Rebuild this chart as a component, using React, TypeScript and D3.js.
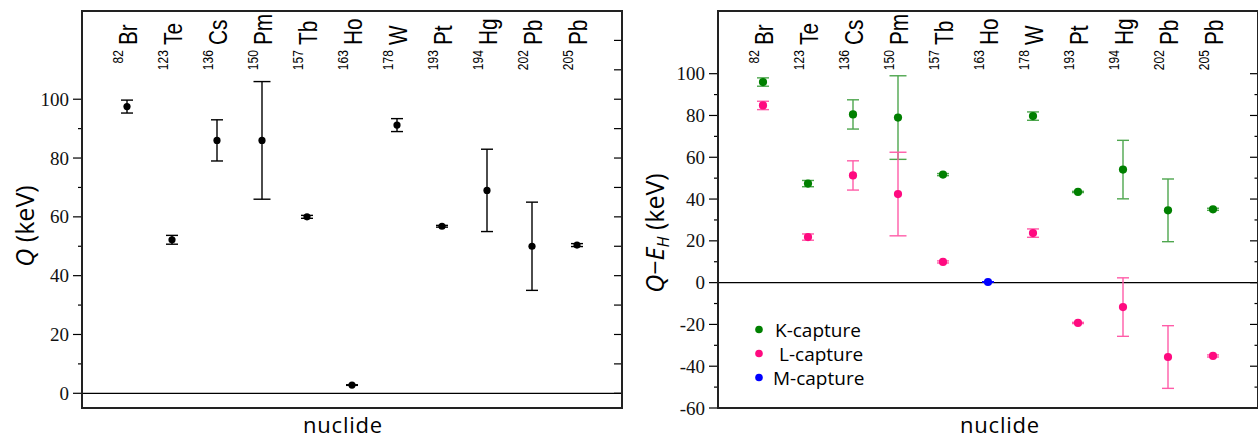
import React from "react";
import * as d3 from "d3";

// ---------- data ----------
const massNumbers = [82, 123, 136, 150, 157, 163, 178, 193, 194, 202, 205];
const elements = ["Br", "Te", "Cs", "Pm", "Tb", "Ho", "W", "Pt", "Hg", "Pb", "Pb"];

// left panel: Q values (keV)
const qValues = [97.5, 52.2, 86.0, 86.0, 60.0, 2.8, 91.2, 56.8, 69.0, 50.0, 50.4];
const qErrors = [2.2, 1.5, 7.0, 20.0, 0.5, 0.1, 2.2, 0.3, 14.0, 15.0, 0.5];

// right panel: Q - E_H (keV)
const kValues = [96.0, 47.4, 80.5, 79.0, 51.7, null, 79.7, 43.4, 54.1, 34.6, 35.1];
const kErrors = [2.0, 1.5, 7.0, 20.0, 0.5, null, 2.0, 0.3, 14.0, 15.0, 0.5];
const lValues = [84.8, 21.8, 51.3, 42.4, 9.9, null, 23.7, -19.3, -11.7, -35.6, -35.1];
const lErrors = [2.0, 1.5, 7.0, 20.0, 0.5, null, 2.0, 0.3, 14.0, 15.0, 0.5];
const mValues = [null, null, null, null, null, 0.3, null, null, null, null, null];
const mErrors = [null, null, null, null, null, 0.1, null, null, null, null, null];

const leftTickLabels = ["0", "20", "40", "60", "80", "100"];
const rightTickLabels = ["-60", "-40", "-20", "0", "20", "40", "60", "80", "100"];
const legendLabels = ["K-capture", "L-capture", "M-capture"];

// ---------- styles ----------
const SANS = "'Open Sans', 'DejaVu Sans', sans-serif";
const LABEL_SANS = "'Liberation Sans', Arial, sans-serif";
const SERIF = "'Liberation Serif', 'Times New Roman', serif";
const GREEN = "#008000";
const GREEN_BAR = "#4ea64e";
const PINK = "#ff0a80";
const PINK_BAR = "#ff5ca8";
const BLUE = "#0000ff";

const TOP = 11;
const BOTTOM = 408;

const keys = massNumbers.map((m, i) => `${m}${elements[i]}`);

function capHalf(i: number) {
  return elements[i] === "Pm" ? 8.5 : 6;
}

type PanelProps = {
  x0: number;
  x1: number;
  domain: [number, number];
  children: (x: d3.ScalePoint<string>, y: d3.ScaleLinear<number, number>) => React.ReactNode;
  leftTicks: number[];
  leftMajor: Set<number>;
  rightTicks: number[];
  rightMajor: Set<number> | null;
};

function NuclideLabels({ x }: { x: d3.ScalePoint<string> }) {
  return (
    <g>
      {keys.map((k, i) => {
        const cx = x(k) as number;
        return (
          <g key={k} transform={`translate(${cx},45) rotate(-90)`}>
            <g transform="scale(0.8,1)">
              <text x={0} y={10} fontSize={26} fontFamily={LABEL_SANS} fill="#000">
                {elements[i]}
              </text>
              <text x={-6.5} y={-4} fontSize={15} fontFamily={LABEL_SANS} textAnchor="end" fill="#000">
                {massNumbers[i]}
              </text>
            </g>
          </g>
        );
      })}
    </g>
  );
}

function Panel({ x0, x1, domain, children, leftTicks, leftMajor, rightTicks, rightMajor }: PanelProps) {
  const x = d3.scalePoint<string>().domain(keys).range([x0, x1]).padding(1);
  const y = d3.scaleLinear().domain(domain).range([BOTTOM, TOP]);
  return (
    <g>
      {/* zero line */}
      <line x1={x0} x2={x1} y1={y(0)} y2={y(0)} stroke="#000" strokeWidth={1.2} />
      {/* left ticks */}
      {leftTicks.map((t) => {
        const major = leftMajor.has(t);
        return (
          <g key={`l${t}`}>
            <line x1={x0 - (major ? 9 : 4)} x2={x0} y1={y(t)} y2={y(t)} stroke="#000" strokeWidth={1.2} />
            {major && (
              <text x={x0 - 13} y={y(t) + 6.5} textAnchor="end" fontSize={19} fontFamily={SERIF} fill="#111">
                {String(t)}
              </text>
            )}
          </g>
        );
      })}
      {/* right ticks */}
      {rightTicks.map((t) => {
        const len = rightMajor ? (rightMajor.has(t) ? 8 : 3.5) : 8;
        return <line key={`r${t}`} x1={x1 - len} x2={x1} y1={y(t)} y2={y(t)} stroke="#000" strokeWidth={1.2} />;
      })}
      <NuclideLabels x={x} />
      {children(x, y)}
      {/* frame */}
      <rect x={x0} y={TOP} width={x1 - x0} height={BOTTOM - TOP} fill="none" stroke="#222" strokeWidth={2} />
    </g>
  );
}

function ErrPoint({
  cx,
  y,
  v,
  e,
  half,
  color,
  barColor,
  r,
}: {
  cx: number;
  y: d3.ScaleLinear<number, number>;
  v: number;
  e: number;
  half: number;
  color: string;
  barColor: string;
  r: number;
}) {
  const yt = y(v + e);
  const yb = y(v - e);
  return (
    <g>
      <line x1={cx} x2={cx} y1={yt} y2={yb} stroke={barColor} strokeWidth={1.4} />
      <line x1={cx - half} x2={cx + half} y1={yt} y2={yt} stroke={barColor} strokeWidth={1.4} />
      <line x1={cx - half} x2={cx + half} y1={yb} y2={yb} stroke={barColor} strokeWidth={1.4} />
      <circle cx={cx} cy={y(v)} r={r} fill={color} />
    </g>
  );
}

export default function App() {
  const leftPanelLeftTicks = d3.range(0, 101, 10);
  const leftPanelRightTicks = d3.range(0, 121, 10);
  const rightPanelTicks = d3.range(-60, 101, 10);
  const leftMajorSet = new Set(leftTickLabels.map(Number));
  const rightMajorSet = new Set(rightTickLabels.map(Number));

  const series = [
    { values: kValues, errors: kErrors, color: GREEN, bar: GREEN_BAR },
    { values: lValues, errors: lErrors, color: PINK, bar: PINK_BAR },
    { values: mValues, errors: mErrors, color: BLUE, bar: BLUE },
  ];

  return (
    <svg
      width={1258}
      height={439}
      style={{ position: "absolute", left: 0, top: 0, background: "#fff" }}
      xmlns="http://www.w3.org/2000/svg"
    >
      <rect x={0} y={0} width={1258} height={439} fill="#fff" />

      {/* ---------- left panel ---------- */}
      <Panel
        x0={82}
        x1={622}
        domain={[-5, 130]}
        leftTicks={leftPanelLeftTicks}
        leftMajor={leftMajorSet}
        rightTicks={leftPanelRightTicks}
        rightMajor={null}
      >
        {(x, y) =>
          keys.map((k, i) => (
            <ErrPoint
              key={k}
              cx={x(k) as number}
              y={y}
              v={qValues[i]}
              e={qErrors[i]}
              half={capHalf(i)}
              color="#000"
              barColor="#000"
              r={3.6}
            />
          ))
        }
      </Panel>
      <text x={0} y={0} transform="translate(34,226) rotate(-90)" textAnchor="middle" fontSize={25} fontFamily={SANS} fill="#000">
        <tspan fontStyle="italic">Q</tspan>
        <tspan> (keV)</tspan>
      </text>
      <text x={343} y={433} textAnchor="middle" fontSize={22} letterSpacing={0.8} fontFamily={SANS} fill="#000">
        nuclide
      </text>

      {/* ---------- right panel ---------- */}
      <Panel
        x0={718}
        x1={1258}
        domain={[-60, 130]}
        leftTicks={rightPanelTicks}
        leftMajor={rightMajorSet}
        rightTicks={rightPanelTicks}
        rightMajor={rightMajorSet}
      >
        {(x, y) =>
          series.map((s, si) =>
            keys.map((k, i) => {
              const v = s.values[i];
              const e = s.errors[i];
              if (v === null || e === null) return null;
              return (
                <ErrPoint
                  key={`${si}-${k}`}
                  cx={x(k) as number}
                  y={y}
                  v={v}
                  e={e}
                  half={capHalf(i)}
                  color={s.color}
                  barColor={s.bar}
                  r={4.1}
                />
              );
            })
          )
        }
      </Panel>
      <text x={0} y={0} transform="translate(664,233) rotate(-90)" textAnchor="middle" fontSize={25} fontFamily={SANS} fill="#000">
        <tspan fontStyle="italic">Q</tspan>
        <tspan>−</tspan>
        <tspan fontStyle="italic">E</tspan>
        <tspan fontStyle="italic" fontSize={16} dy={5}>H</tspan>
        <tspan dy={-5}> (keV)</tspan>
      </text>
      <text x={1000} y={433} textAnchor="middle" fontSize={22} letterSpacing={0.8} fontFamily={SANS} fill="#000">
        nuclide
      </text>

      {/* legend */}
      {legendLabels.map((lab, i) => (
        <g key={lab}>
          <circle cx={759} cy={329.5 + i * 24} r={3.8} fill={series[i].color} />
          <text x={i === 1 ? 779 : i === 2 ? 773 : 775} y={336.5 + i * 24} fontSize={19} fontFamily={SANS} fill="#000">
            {lab}
          </text>
        </g>
      ))}
    </svg>
  );
}
